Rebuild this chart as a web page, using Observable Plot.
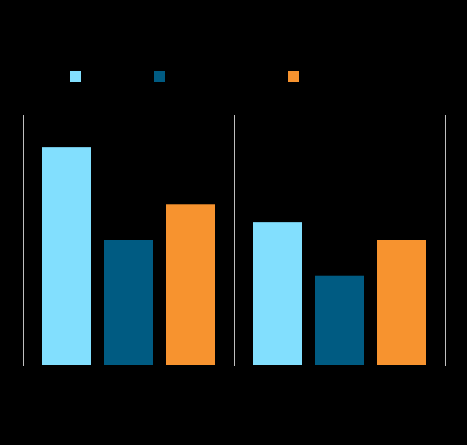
<!DOCTYPE html>
<html>
<head>
<meta charset="utf-8">
<script src="https://cdn.jsdelivr.net/npm/d3@7"></script>
<script src="https://cdn.jsdelivr.net/npm/@observablehq/plot@0.6"></script>
<style>
  html, body { margin: 0; padding: 0; background: #000; }
  #wrap { width: 467px; font-family: "Liberation Sans", Arial, sans-serif; color: #000; }
  #title { height: 66px; margin: 0; padding: 18px 22px 0 22px; box-sizing: border-box; font-size: 16px; font-weight: bold; color: #000; }
  #legend { display: flex; align-items: center; height: 20px; padding-left: 70px; font-size: 12px; color: #000; }
  .item { display: flex; align-items: center; }
  .sw { width: 11px; height: 11px; margin-right: 6px; flex: none; }
</style>
</head>
<body>
<div id="wrap">
  <div id="title">Comparison by group</div>
  <div id="legend"></div>
  <div id="chart"></div>
</div>
<script>
const groups = ["Group 1", "Group 2"];
const series = ["Series A", "Series B", "Series C"];
const valuesGroup1 = [61, 35, 45];
const valuesGroup2 = [40, 25, 35];
const colors = ["#82dffe", "#005b82", "#f7932f"];
const legendWidths = [84, 134, 120];

const data = [];
[valuesGroup1, valuesGroup2].forEach((vals, gi) => {
  vals.forEach((v, si) => data.push({group: groups[gi], series: series[si], value: v}));
});

const legend = document.getElementById("legend");
series.forEach((s, i) => {
  const item = document.createElement("div");
  item.className = "item";
  item.style.width = legendWidths[i] + "px";
  const sw = document.createElement("span");
  sw.className = "sw";
  sw.style.background = colors[i];
  const lab = document.createElement("span");
  lab.textContent = s;
  item.appendChild(sw);
  item.appendChild(lab);
  legend.appendChild(item);
});

const chart = Plot.plot({
  width: 467,
  height: 359,
  marginLeft: 22,
  marginRight: 22,
  marginTop: 29,
  marginBottom: 80,
  style: {background: "transparent", color: "#000", fontSize: "12px"},
  fx: {domain: groups, paddingInner: 0, paddingOuter: 0, axis: "bottom", label: null, tickSize: 0},
  x: {domain: series, paddingInner: 0.21, paddingOuter: 0.28, axis: null},
  y: {domain: [0, 70], axis: null},
  color: {domain: series, range: colors},
  marks: [
    Plot.barY(data, {fx: "group", x: "series", y: "value", fill: "series"}),
    Plot.frame({anchor: "left", stroke: "#c0c0c0"}),
    Plot.frame({anchor: "right", stroke: "#c0c0c0"})
  ]
});
document.getElementById("chart").appendChild(chart);
</script>
</body>
</html>
